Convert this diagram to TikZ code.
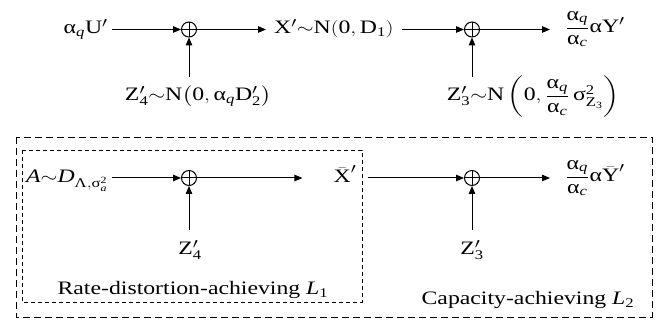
\documentclass[tikz,border=0pt]{standalone}
\usepackage{amsmath}
\usepackage{fontspec}
\setmainfont{Liberation Serif}
\usetikzlibrary{arrows.meta}
\newcommand\ga{\text{α}}
\newcommand\hs[1]{\scalebox{1.25}[1]{#1}}
\begin{document}
\begin{tikzpicture}[x=1pt,y=-1pt,
  lbl/.style={inner xsep=0pt, inner ysep=0pt, font=\fontsize{19}{22}\selectfont},
  sum/.style={circle, draw, minimum size=15pt, inner sep=0pt, line width=1pt,
    path picture={\draw[line width=1pt] (path picture bounding box.north) -- (path picture bounding box.south)
      (path picture bounding box.west) -- (path picture bounding box.east);}},
  arr/.style={line width=1pt, -{Triangle[length=8pt,width=6.5pt]}},
  outerbox/.style={line width=0.9pt, dash pattern=on 7pt off 4pt},
  innerbox/.style={line width=0.9pt, dash pattern=on 4pt off 3pt}]
\useasboundingbox (0,0) rectangle (662,320);
% ---------- top row ----------
\node[lbl, inner xsep=4pt, anchor=base east] (u) at (112,34) {\hs{$\ga_{\textit{q}}\text{U}'$}};
\node[sum] (s1) at (189,29.5) {};
\node[lbl, inner xsep=8pt, anchor=base west] (x1) at (266,34) {\hs{$\text{X}'{\sim}\text{N}(\text{0}, \text{D}_{\text{1}})$}};
\node[sum] (s2) at (472,29.5) {};
\node[lbl, inner xsep=15pt, anchor=west] (y1) at (550,29) {\hs{$\dfrac{\ga_{\textit{q}}}{\ga_{\textit{c}}}\ga\text{Y}'$}};
\node[lbl, inner ysep=9pt, anchor=base] (z4) at (198,101) {\hs{$\text{Z}'_{\text{4}}{\sim}\text{N}\bigl(\text{0}, \ga_{\textit{q}}\text{D}'_{\text{2}}\bigr)$}};
\node[lbl, anchor=base] (z3) at (533,101) {\hs{$\text{Z}'_{\text{3}}{\sim}\text{N}\left(\text{0}, \dfrac{\ga_{\textit{q}}}{\ga_{\textit{c}}}\,\text{σ}^{\text{2}}_{\text{Z}_{\text{3}}}\right)$}};
\draw[arr] (s1 -| u.east) -- (s1.west);
\draw[arr] (s1.east) -- (s1 -| x1.west);
\draw[arr] (s2 -| x1.east) -- (s2.west);
\draw[arr] (s2.east) -- (s2 -| y1.west);
\draw[arr] (z4.north -| s1) -- (s1.south);
\draw[arr] (z4.north -| s2) -- (s2.south);
% ---------- boxes ----------
\draw[outerbox] (16,137) rectangle (652,317);
\draw[innerbox] (22,150) rectangle (362,302);
% ---------- bottom row ----------
\node[lbl, inner xsep=4pt, anchor=base east] (a) at (112,183) {\hs{$\textit{A}{\sim}\textit{D}_{\text{Λ},\text{σ}^{\text{2}}_{\textit{a}}}$}};
\node[sum] (s3) at (189,178) {};
\node[lbl, inner xsep=11pt, anchor=base] (xb) at (345,183) {\hs{$\bar{\text{X}}'$}};
\node[sum] (s4) at (472,178) {};
\node[lbl, inner xsep=15pt, anchor=west] (y2) at (550,178) {\hs{$\dfrac{\ga_{\textit{q}}}{\ga_{\textit{c}}}\ga\bar{\text{Y}}'$}};
\node[lbl, inner ysep=10pt, anchor=base] (z4b) at (190,255) {\hs{$\text{Z}'_{\text{4}}$}};
\node[lbl, inner ysep=10pt, anchor=base] (z3b) at (472,255) {\hs{$\text{Z}'_{\text{3}}$}};
\draw[arr] (s3 -| a.east) -- (s3.west);
\draw[arr, shorten >=20pt] (s3.east) -- (s3 -| xb.west);
\draw[arr] (s4 -| xb.east) -- (s4.west);
\draw[arr] (s4.east) -- (s4 -| y2.west);
\draw[arr] (z4b.north -| s3) -- (s3.south);
\draw[arr] (z3b.north -| s4) -- (s4.south);
\node[lbl, anchor=base] (r1) at (193,295) {\hs{Rate-distortion-achieving $\textit{L}_{\text{1}}$}};
\node[lbl, anchor=base] (r2) at (528,305) {\hs{Capacity-achieving $\textit{L}_{\text{2}}$}};
\end{tikzpicture}
\end{document}
